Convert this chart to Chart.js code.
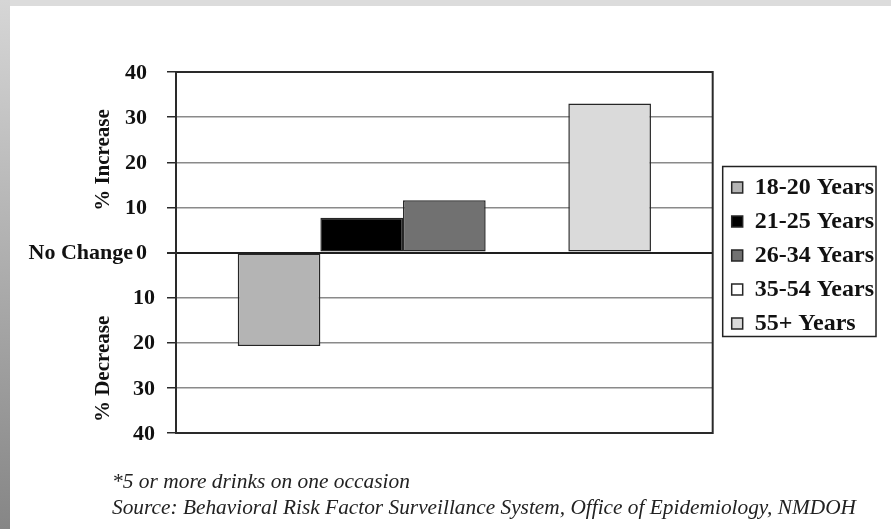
<!DOCTYPE html>
<html>
<head>
<meta charset="utf-8">
<script src="https://cdn.jsdelivr.net/npm/chart.js@4.4.1/dist/chart.umd.min.js"></script>
<style>
  html, body { margin: 0; background: #fff; }
  .frame { position: relative; width: 891px; height: 529px; background: #fff; overflow: hidden; }
  .frame::before { content: ""; position: absolute; left: 0; top: 0; right: 0; height: 6px; background: #dcdcdc; }
  .frame::after { content: ""; position: absolute; left: 0; top: 0; bottom: 0; width: 10px; background: linear-gradient(#d6d6d6, #868686); }
  canvas { position: absolute; left: 0; top: 0; }
</style>
</head>
<body>
<div class="frame"><canvas id="chart" width="891" height="529"></canvas></div>
<script>
const SERIF = "'Liberation Serif', 'Times New Roman', serif";

// one group, one bar per age band (percent change)
const groups = ["Binge drinking*"];
const ageBands = ["18-20 Years", "21-25 Years", "26-34 Years", "35-54 Years", "55+ Years"];
const pctChange = [-20.7, 7.7, 11.6, 0, 33.0];
const fills = ["#b4b4b4", "#000000", "#717171", "#ffffff", "#dadada"];
const yTicks = [-40, -30, -20, -10, 0, 10, 20, 30, 40];
const notes = [
  "*5 or more drinks on one occasion",
  "Source: Behavioral Risk Factor Surveillance System, Office of Epidemiology, NMDOH",
];

// text stretched to a fixed width
function fitText(ctx, text, x, y, width) {
  const w = ctx.measureText(text).width;
  ctx.save();
  ctx.translate(x, y);
  ctx.scale(width / w, 1);
  ctx.fillText(text, 0, 0);
  ctx.restore();
}

const decor = {
  id: "decor",
  afterUpdate(chart) {
    // nudge the legend away from the plot
    const lg = chart.legend, dx = 9, dy = 3;
    lg.left += dx; lg.right += dx;
    lg.top += dy; lg.bottom += dy;
    lg.legendHitBoxes.forEach((b) => { b.left += dx; b.top += dy; });
  },
  afterDatasetsDraw(chart) {
    const { ctx, chartArea: a, scales: { y } } = chart;
    ctx.save();
    // plot frame
    ctx.strokeStyle = "#2a2a2a";
    ctx.lineWidth = 2;
    ctx.strokeRect(a.left, a.top, a.right - a.left, a.bottom - a.top);

    // tick labels, shown as magnitudes
    ctx.fillStyle = "#111";
    ctx.font = `bold 22px ${SERIF}`;
    ctx.textAlign = "right";
    ctx.textBaseline = "middle";
    y.ticks.forEach((t) => {
      const off = t.value < 0 ? 21 : 29;
      ctx.fillText(String(Math.abs(t.value)), a.left - off, y.getPixelForValue(t.value) + 1);
    });
    ctx.fillText("No Change", a.left - 43, y.getPixelForValue(0) + 1);

    // side titles
    ctx.font = `bold 21px ${SERIF}`;
    ctx.textAlign = "center";
    [["% Increase", 20.5], ["% Decrease", -25.8]].forEach(([txt, v]) => {
      ctx.save();
      ctx.translate(104, y.getPixelForValue(v));
      ctx.rotate(-Math.PI / 2);
      ctx.fillText(txt, 0, 0);
      ctx.restore();
    });

    // footnotes
    ctx.fillStyle = "#222";
    ctx.font = `italic 22px ${SERIF}`;
    ctx.textAlign = "left";
    ctx.textBaseline = "alphabetic";
    fitText(ctx, notes[0], 112, 488, 298);
    fitText(ctx, notes[1], 112, 514, 744);
    ctx.restore();
  },
  afterDraw(chart) {
    // box round the legend
    const boxes = chart.legend.legendHitBoxes;
    if (!boxes.length) return;
    const l = Math.min(...boxes.map((b) => b.left)) - 9;
    const t = Math.min(...boxes.map((b) => b.top)) - 9;
    const r = Math.max(...boxes.map((b) => b.left + b.width)) + 2;
    const btm = Math.max(...boxes.map((b) => b.top + b.height)) + 1;
    const { ctx } = chart;
    ctx.save();
    ctx.strokeStyle = "#222";
    ctx.lineWidth = 1.5;
    ctx.strokeRect(l, t, r - l, btm - t);
    ctx.restore();
  },
};

Chart.defaults.font.family = SERIF;
Chart.defaults.color = "#111";

new Chart(document.getElementById("chart"), {
  type: "bar",
  data: {
    labels: groups,
    datasets: ageBands.map((band, i) => ({
      label: band,
      data: [pctChange[i]],
      backgroundColor: fills[i],
      borderColor: "#262626",
      borderWidth: 1.5,
      borderSkipped: false,
    })),
  },
  options: {
    responsive: false,
    animation: false,
    layout: { padding: { left: 0, top: 72, bottom: 96, right: 16 } },
    datasets: { bar: { categoryPercentage: 0.77, barPercentage: 1 } },
    scales: {
      x: { display: false },
      y: {
        min: yTicks[0],
        max: yTicks[yTicks.length - 1],
        afterBuildTicks: (s) => { s.ticks = yTicks.map((v) => ({ value: v })); },
        afterFit: (s) => { s.width = 176; },
        ticks: { display: false },
        grid: {
          color: (c) => (c.tick && c.tick.value === 0 ? "#1e1e1e" : "#8a8a8a"),
          lineWidth: (c) => (c.tick && c.tick.value === 0 ? 2 : 1.5),
          tickLength: 9,
          tickColor: "#2a2a2a",
        },
        border: { color: "#2a2a2a", width: 2 },
      },
    },
    plugins: {
      tooltip: { enabled: false },
      legend: {
        position: "right",
        labels: {
          boxWidth: 11,
          boxHeight: 11,
          padding: 10,
          color: "#111",
          font: { size: 24, weight: "bold", family: SERIF },
        },
      },
    },
  },
  plugins: [decor],
});
</script>
</body>
</html>
